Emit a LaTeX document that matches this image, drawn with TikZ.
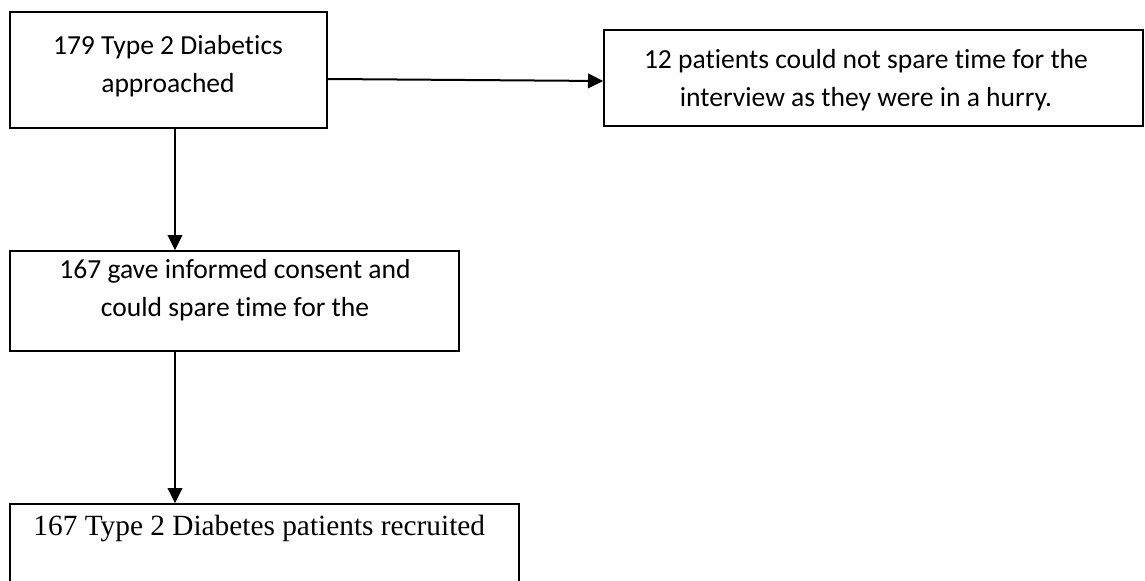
\documentclass[tikz,border=0pt]{standalone}
\usepackage{fontspec}
\setmainfont{Carlito}[Ligatures={NoCommon}]
\newfontfamily\timesfont{Liberation Serif}
\usetikzlibrary{arrows.meta,calc,fit}
\begin{document}
\begin{tikzpicture}[x=0.45pt,y=-0.45pt,
  box/.style={draw=black, line width=0.8pt, inner sep=0pt},
  txt/.style={inner sep=0pt, align=center, font=\fontsize{12.4}{17}\selectfont},
  arr/.style={draw=black, line width=0.9pt, -{Triangle[length=6.8pt,width=6.6pt]}}]
\useasboundingbox (0,0) rectangle (1145,581);
\coordinate (ax) at (175,0);
% boxes
\node[box, fit={(10,12)(327,128)}] (b1) {};
\node[box, fit={(604,30)(1143,126)}] (b2) {};
\node[box, fit={(10,251)(459,351)}] (b3) {};
\node[box, fit={(10,504)(519,640)}] (b4) {};
% texts
\node[txt] (t1) at (168,66) {179 Type 2 Diabetics\\approached};
\node[txt] (t2) at (866,80) {12 patients could not spare time for the\\interview as they were in a hurry.};
\node[txt] (t3) at (235,290) {167 gave informed consent and\\could spare time for the};
\node[inner sep=0pt, anchor=west, font=\timesfont\fontsize{13.2}{15}\selectfont] (t4) at (33,528) {167 Type 2 Diabetes patients recruited};
% connectors
\draw[arr] ($(b1.east)+(0,9)$) -- ($(b2.west)+(0,3)$);
\draw[arr] (b1.south -| ax) -- (b3.north -| ax);
\draw[arr] (b3.south -| ax) -- (b4.north -| ax);
\end{tikzpicture}
\end{document}
